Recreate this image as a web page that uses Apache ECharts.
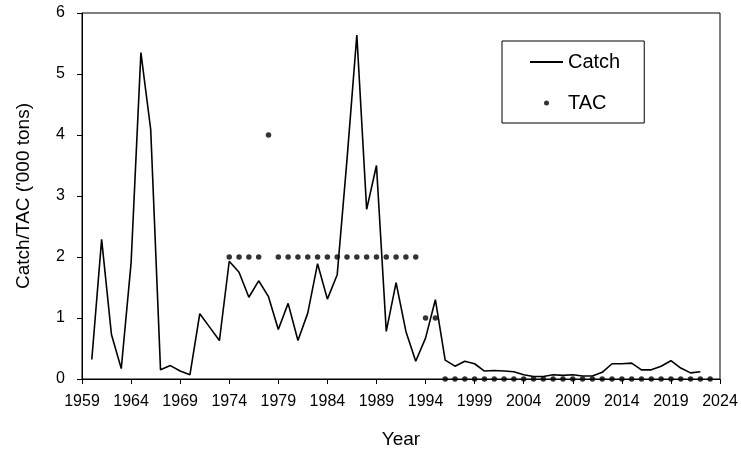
<!DOCTYPE html>
<html>
<head>
<meta charset="utf-8">
<script src="https://cdn.jsdelivr.net/npm/echarts@6/dist/echarts.min.js"></script>
<style>
  html, body { margin: 0; padding: 0; background: #fff; }
  #chart { width: 741px; height: 454px; }
</style>
</head>
<body>
<div id="chart"></div>
<script>
// catch by year, 1960 - 2022
var catchYears = [];
for (var y = 1960; y <= 2022; y++) catchYears.push(y);
var catchValues = [
  0.32, 2.29, 0.73, 0.17, 1.90, 5.35, 4.09, 0.15, 0.22, 0.13,
  0.07, 1.07, 0.85, 0.63, 1.93, 1.75, 1.34, 1.61, 1.35, 0.81,
  1.24, 0.63, 1.08, 1.89, 1.31, 1.71, 3.60, 5.64, 2.78, 3.50,
  0.78, 1.58, 0.78, 0.29, 0.67, 1.30, 0.31, 0.21, 0.29, 0.25,
  0.13, 0.14, 0.13, 0.12, 0.07, 0.04, 0.04, 0.07, 0.06, 0.07,
  0.05, 0.05, 0.11, 0.25, 0.25, 0.26, 0.15, 0.15, 0.21, 0.30,
  0.18, 0.10, 0.12
];

// TAC by year, 1974 - 2023
var tacYears = [];
for (var t = 1974; t <= 2023; t++) tacYears.push(t);
var tacValues = [
  2, 2, 2, 2, 4, 2, 2, 2, 2, 2, 2, 2, 2, 2, 2, 2, 2, 2, 2, 2,
  1, 1, 0, 0, 0, 0, 0, 0, 0, 0, 0, 0, 0, 0, 0, 0, 0, 0, 0, 0,
  0, 0, 0, 0, 0, 0, 0, 0, 0, 0
];

var xMin = 1959, xMax = 2024, xStep = 5;
var yMin = 0, yMax = 6, yStep = 1;

var font = "'Liberation Sans', Arial, sans-serif";

var chart = echarts.init(document.getElementById('chart'));
chart.setOption({
  animation: false,
  backgroundColor: '#fff',
  textStyle: { fontFamily: font, color: '#000' },
  grid: {
    left: 82, right: 21, top: 13, bottom: 75,
    show: true, borderColor: '#000', borderWidth: 1
  },
  legend: {
    orient: 'vertical',
    left: 502, top: 41,
    padding: [11, 24, 10, 27],
    borderColor: '#000', borderWidth: 1,
    itemWidth: 33, itemHeight: 5, itemGap: 21,
    textStyle: { fontSize: 20, color: '#000', fontFamily: font },
    data: [
      { name: 'Catch', itemStyle: { opacity: 0 } },
      { name: 'TAC', icon: 'circle' }
    ]
  },
  xAxis: {
    type: 'value',
    min: xMin, max: xMax, interval: xStep,
    name: 'Year', nameLocation: 'middle', nameGap: 51,
    nameTextStyle: { fontSize: 19, color: '#000', fontFamily: font },
    axisLine: { show: true, lineStyle: { color: '#000', width: 1 } },
    axisTick: { show: true, length: 5, lineStyle: { color: '#000' } },
    axisLabel: {
      fontSize: 16, color: '#000', margin: 15, fontFamily: font,
      formatter: function (v) { return String(v); }
    },
    splitLine: { show: false }
  },
  yAxis: {
    type: 'value',
    min: yMin, max: yMax, interval: yStep,
    name: "Catch/TAC ('000 tons)", nameLocation: 'middle', nameGap: 49,
    nameTextStyle: { fontSize: 19, color: '#000', fontFamily: font },
    axisLine: { show: true, lineStyle: { color: '#000', width: 1 } },
    axisTick: { show: true, length: 5, lineStyle: { color: '#000' } },
    axisLabel: { fontSize: 16, color: '#000', margin: 17, fontFamily: font },
    splitLine: { show: false }
  },
  series: [
    {
      name: 'Catch',
      type: 'line',
      symbol: 'none',
      lineStyle: { color: '#000', width: 1.6 },
      itemStyle: { color: '#000' },
      data: catchYears.map(function (yr, i) { return [yr, catchValues[i]]; })
    },
    {
      name: 'TAC',
      type: 'scatter',
      symbol: 'circle',
      symbolSize: 5.5,
      itemStyle: { color: '#000' },
      data: tacYears.map(function (yr, i) { return [yr, tacValues[i]]; })
    }
  ]
});
</script>
</body>
</html>
